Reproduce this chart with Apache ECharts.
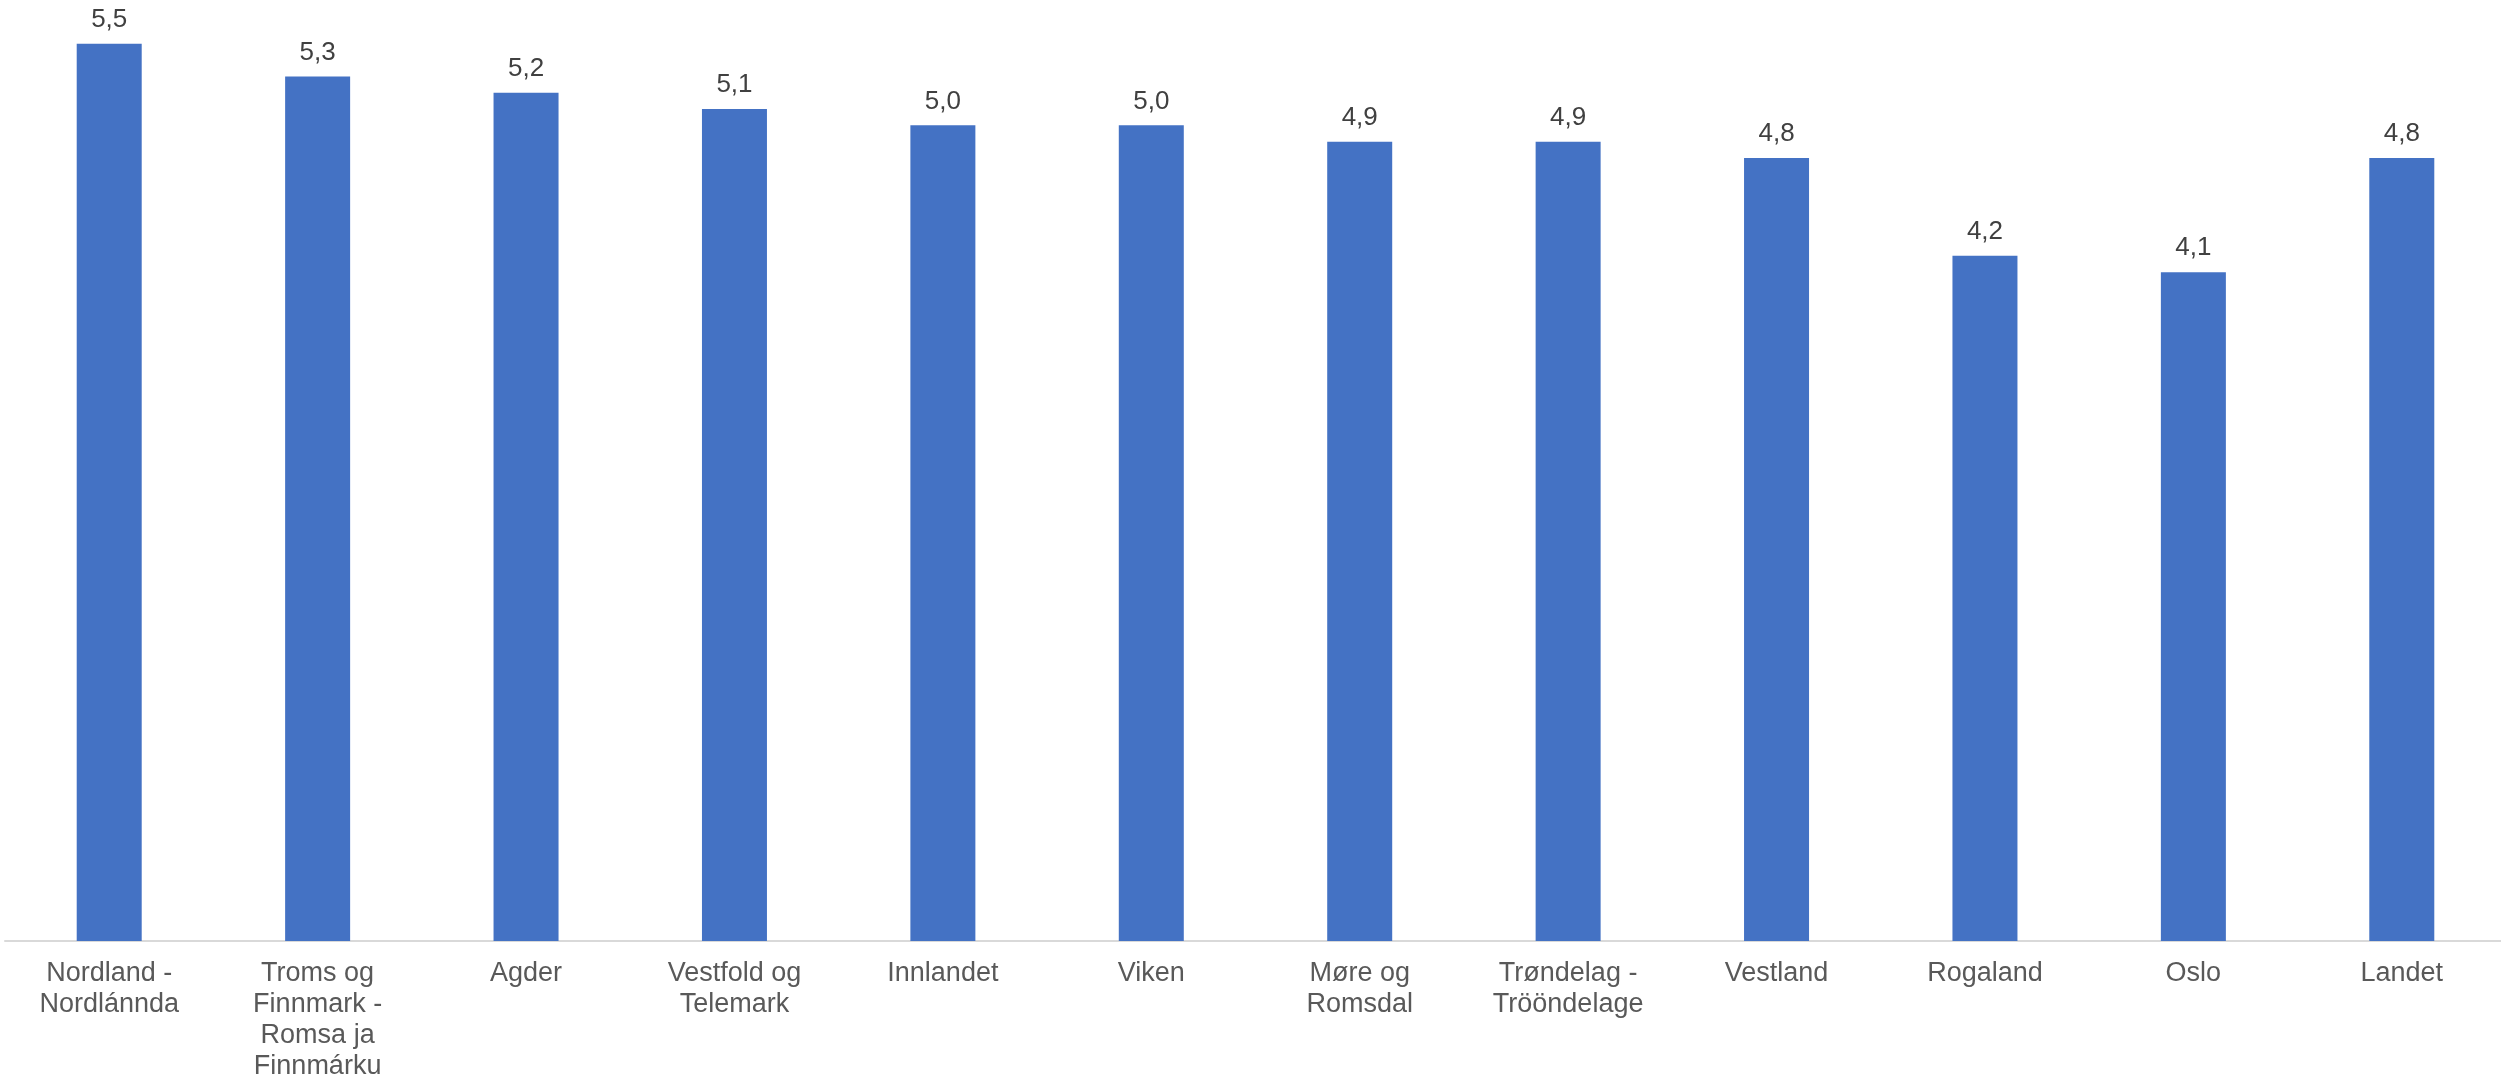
<!DOCTYPE html>
<html><head><meta charset="utf-8">
<script src="https://cdn.jsdelivr.net/npm/echarts@6/dist/echarts.min.js"></script>
<style>html,body{margin:0;padding:0;background:#fff}#c{width:2501px;height:1079px}</style>
</head><body><div id="c"></div>
<script>
const categories = ["Nordland -\nNordlánnda", "Troms og\nFinnmark -\nRomsa ja\nFinnmárku", "Agder", "Vestfold og\nTelemark", "Innlandet", "Viken", "Møre og\nRomsdal", "Trøndelag -\nTrööndelage", "Vestland", "Rogaland", "Oslo", "Landet"];
const values = [5.5, 5.3, 5.2, 5.1, 5.0, 5.0, 4.9, 4.9, 4.8, 4.2, 4.1, 4.8];

const chart = echarts.init(document.getElementById('c'));
chart.setOption({
  animation: false,
  backgroundColor: '#ffffff',
  grid: { left: 5, width: 2501, top: 3, bottom: 138, containLabel: false, outerBoundsMode: 'none' },
  xAxis: {
    type: 'category',
    data: categories,
    axisLine: { lineStyle: { color: '#d9d9d9', width: 2 } },
    axisTick: { show: false },
    axisLabel: { color: '#595959', fontSize: 27, lineHeight: 31, margin: 17, interval: 0, fontFamily: 'Liberation Sans, Arial, sans-serif' }
  },
  yAxis: {
    type: 'value', min: 0, max: 5.75,
    show: false,
    splitLine: { show: false }
  },
  series: [{
    type: 'bar',
    data: values,
    barWidth: 65,
    itemStyle: { color: '#4472C4' },
    label: {
      show: true, position: 'top', distance: 11,
      color: '#404040', fontSize: 26, fontFamily: 'Liberation Sans, Arial, sans-serif',
      formatter: p => p.value.toFixed(1).replace('.', ',')
    }
  }]
});
</script></body></html>
